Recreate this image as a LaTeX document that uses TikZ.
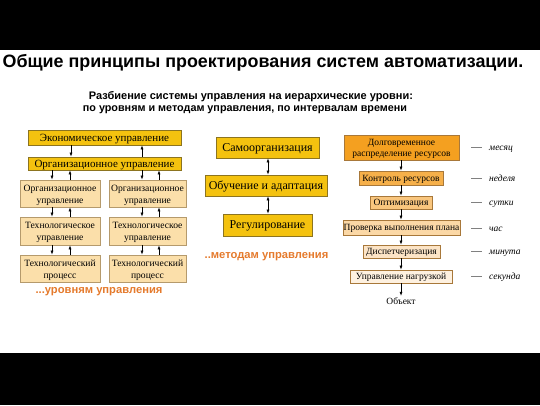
\documentclass[tikz,border=0pt]{standalone}
\usepackage{fontspec}
\setmainfont{Liberation Serif}
\newfontfamily\hsans{Liberation Sans}
\usetikzlibrary{arrows.meta}
\newcommand\tstr{\rule{0pt}{9.5pt}}
\definecolor{gold}{HTML}{F4C20F}
\definecolor{goldline}{HTML}{8C7420}
\definecolor{tan}{HTML}{FBDFAA}
\definecolor{tanline}{HTML}{B59A6C}
\definecolor{orgtxt}{HTML}{E57A2C}
\definecolor{oA}{HTML}{F4A020}
\definecolor{oB}{HTML}{F6B04A}
\definecolor{oC}{HTML}{F9C67E}
\definecolor{oD}{HTML}{FBD8A6}
\definecolor{oE}{HTML}{FCE4C6}
\definecolor{oF}{HTML}{FEF1E0}
\definecolor{oline}{HTML}{A8783A}
\begin{document}
\begin{tikzpicture}[x=1pt,y=-1pt,
  one/.style={text height=8.2pt,text depth=0.8pt},
  onesmall/.style={text height=7.2pt,text depth=0.8pt},
  goldbox/.style={draw=goldline,fill=gold,line width=0.8pt,inner sep=0pt,font=\fontsize{11}{12}\selectfont,one},
  tanbox/.style={draw=tanline,fill=tan,line width=0.8pt,inner sep=0pt,align=center,font=\fontsize{9.6}{12}\selectfont},
  obox/.style={draw=oline,line width=0.7pt,inner sep=0pt,align=center,font=\fontsize{9.5}{11.5}\selectfont},
  arr/.style={-{Latex[length=4pt,width=3pt]},line width=0.6pt},
  darr/.style={{Latex[length=4pt,width=3pt]}-{Latex[length=4pt,width=3pt]},line width=0.6pt},
  tlabel/.style={anchor=west,inner sep=0pt,font=\fontsize{9.5}{11}\selectfont\itshape,onesmall},
  tick/.style={draw=gray,line width=0.5pt},
  orglabel/.style={text=orgtxt,font=\hsans\bfseries\fontsize{11.2}{12}\selectfont}
]
\useasboundingbox (0,0) rectangle (540,405);
\fill[white] (0,0) rectangle (540,405);
\fill[black] (0,0) rectangle (540,50);
\fill[black] (0,353) rectangle (540,405);

\node[font=\hsans\bfseries\fontsize{17.9}{20}\selectfont] (title) at (263,63) {Общие принципы проектирования систем автоматизации.};
\node[font=\hsans\bfseries\fontsize{11}{12}\selectfont] (sub1) at (251,97) {Разбиение системы управления на иерархические уровни:};
\node[font=\hsans\bfseries\fontsize{10.8}{12}\selectfont] (sub2) at (245,110) {по уровням и методам управления, по интервалам времени};

% left panel
\node[goldbox,minimum width=153pt,minimum height=15pt] (e1) at (104.5,137.5) {Экономическое управление};
\node[goldbox,minimum width=153pt,minimum height=13pt] (o1) at (104.5,163.5) {Организационное управление};
\node[tanbox,minimum width=80pt,minimum height=27pt] (L1) at (60,193.5) {\tstr Организационное\\управление};
\node[tanbox,minimum width=77pt,minimum height=27pt] (R1) at (147.5,193.5) {\tstr Организационное\\управление};
\node[tanbox,minimum width=80pt,minimum height=28pt] (L2) at (60,231) {\tstr Технологическое\\управление};
\node[tanbox,minimum width=77pt,minimum height=28pt] (R2) at (147.5,231) {\tstr Технологическое\\управление};
\node[tanbox,minimum width=80pt,minimum height=27pt] (L3) at (60,268.5) {\tstr Технологический\\процесс};
\node[tanbox,minimum width=77pt,minimum height=27pt] (R3) at (147.5,268.5) {\tstr Технологический\\процесс};
\node[orglabel] (lvl) at (99,292) {...уровням управления};

\draw[arr] (e1.south -| 71,0) -- (o1.north -| 71,0);
\draw[arr] (o1.north -| 142,0) -- (e1.south -| 142,0);
\draw[arr] (o1.south -| 52,0) -- (L1.north -| 52,0);
\draw[arr] (L1.north -| 70,0) -- (o1.south -| 70,0);
\draw[arr] (o1.south -| 142,0) -- (R1.north -| 142,0);
\draw[arr] (R1.north -| 159,0) -- (o1.south -| 159,0);
\draw[arr] (L1.south -| 52,0) -- (L2.north -| 52,0);
\draw[arr] (L2.north -| 70,0) -- (L1.south -| 70,0);
\draw[arr] (R1.south -| 142,0) -- (R2.north -| 142,0);
\draw[arr] (R2.north -| 159,0) -- (R1.south -| 159,0);
\draw[arr] (L2.south -| 52,0) -- (L3.north -| 52,0);
\draw[arr] (L3.north -| 70,0) -- (L2.south -| 70,0);
\draw[arr] (R2.south -| 142,0) -- (R3.north -| 142,0);
\draw[arr] (R3.north -| 159,0) -- (R2.south -| 159,0);

% middle panel
\node[goldbox,minimum width=103pt,minimum height=21pt,font=\fontsize{12}{14}\selectfont] (s) at (267.5,147.5) {Самоорганизация};
\node[goldbox,minimum width=122pt,minimum height=21pt,font=\fontsize{12}{14}\selectfont] (a) at (266,185.5) {Обучение и адаптация};
\node[goldbox,minimum width=89pt,minimum height=22pt,font=\fontsize{12}{14}\selectfont] (r) at (267.5,225) {Регулирование};
\node[orglabel] (mth) at (266.5,257) {..методам управления};
\draw[darr] (s.south -| 268,0) -- (a.north -| 268,0);
\draw[darr] (a.south -| 268,0) -- (r.north -| 268,0);

% right panel
\node[obox,fill=oA,minimum width=115pt,minimum height=25pt] (d1) at (401.5,147.5) {\tstr Долговременное\\распределение ресурсов};
\node[obox,onesmall,fill=oB,minimum width=84pt,minimum height=14pt] (d2) at (401,178) {Контроль ресурсов};
\node[obox,onesmall,fill=oC,minimum width=62pt,minimum height=13pt] (d3) at (401,202.5) {Оптимизация};
\node[obox,onesmall,fill=oD,minimum width=117pt,minimum height=15pt] (d4) at (401.5,227.5) {Проверка выполнения плана};
\node[obox,onesmall,fill=oE,minimum width=77pt,minimum height=13pt] (d5) at (401.5,251.5) {Диспетчеризация};
\node[obox,onesmall,fill=oF,minimum width=102pt,minimum height=13pt] (d6) at (401,276.5) {Управление нагрузкой};
\node[inner sep=1pt,onesmall,font=\fontsize{9.5}{11}\selectfont] (obj) at (401,301) {Объект};
\draw[arr] (d1.south -| 401,0) -- (d2.north -| 401,0);
\draw[arr] (d2.south -| 401,0) -- (d3.north -| 401,0);
\draw[arr] (d3.south -| 401,0) -- (d4.north -| 401,0);
\draw[arr] (d4.south -| 401,0) -- (d5.north -| 401,0);
\draw[arr] (d5.south -| 401,0) -- (d6.north -| 401,0);
\draw[arr] (d6.south -| 401,0) -- (obj.north -| 401,0);

\foreach \y/\t/\n in {147/месяц/t1,178/неделя/t2,202/сутки/t3,228/час/t4,251/минута/t5,276/секунда/t6}{
  \coordinate (\n a) at (471,\y);
  \coordinate (\n b) at (482,\y);
  \draw[tick] (\n a) -- (\n b);
  \node[tlabel] (\n) at (489,\y) {\t};
}
\end{tikzpicture}
\end{document}
